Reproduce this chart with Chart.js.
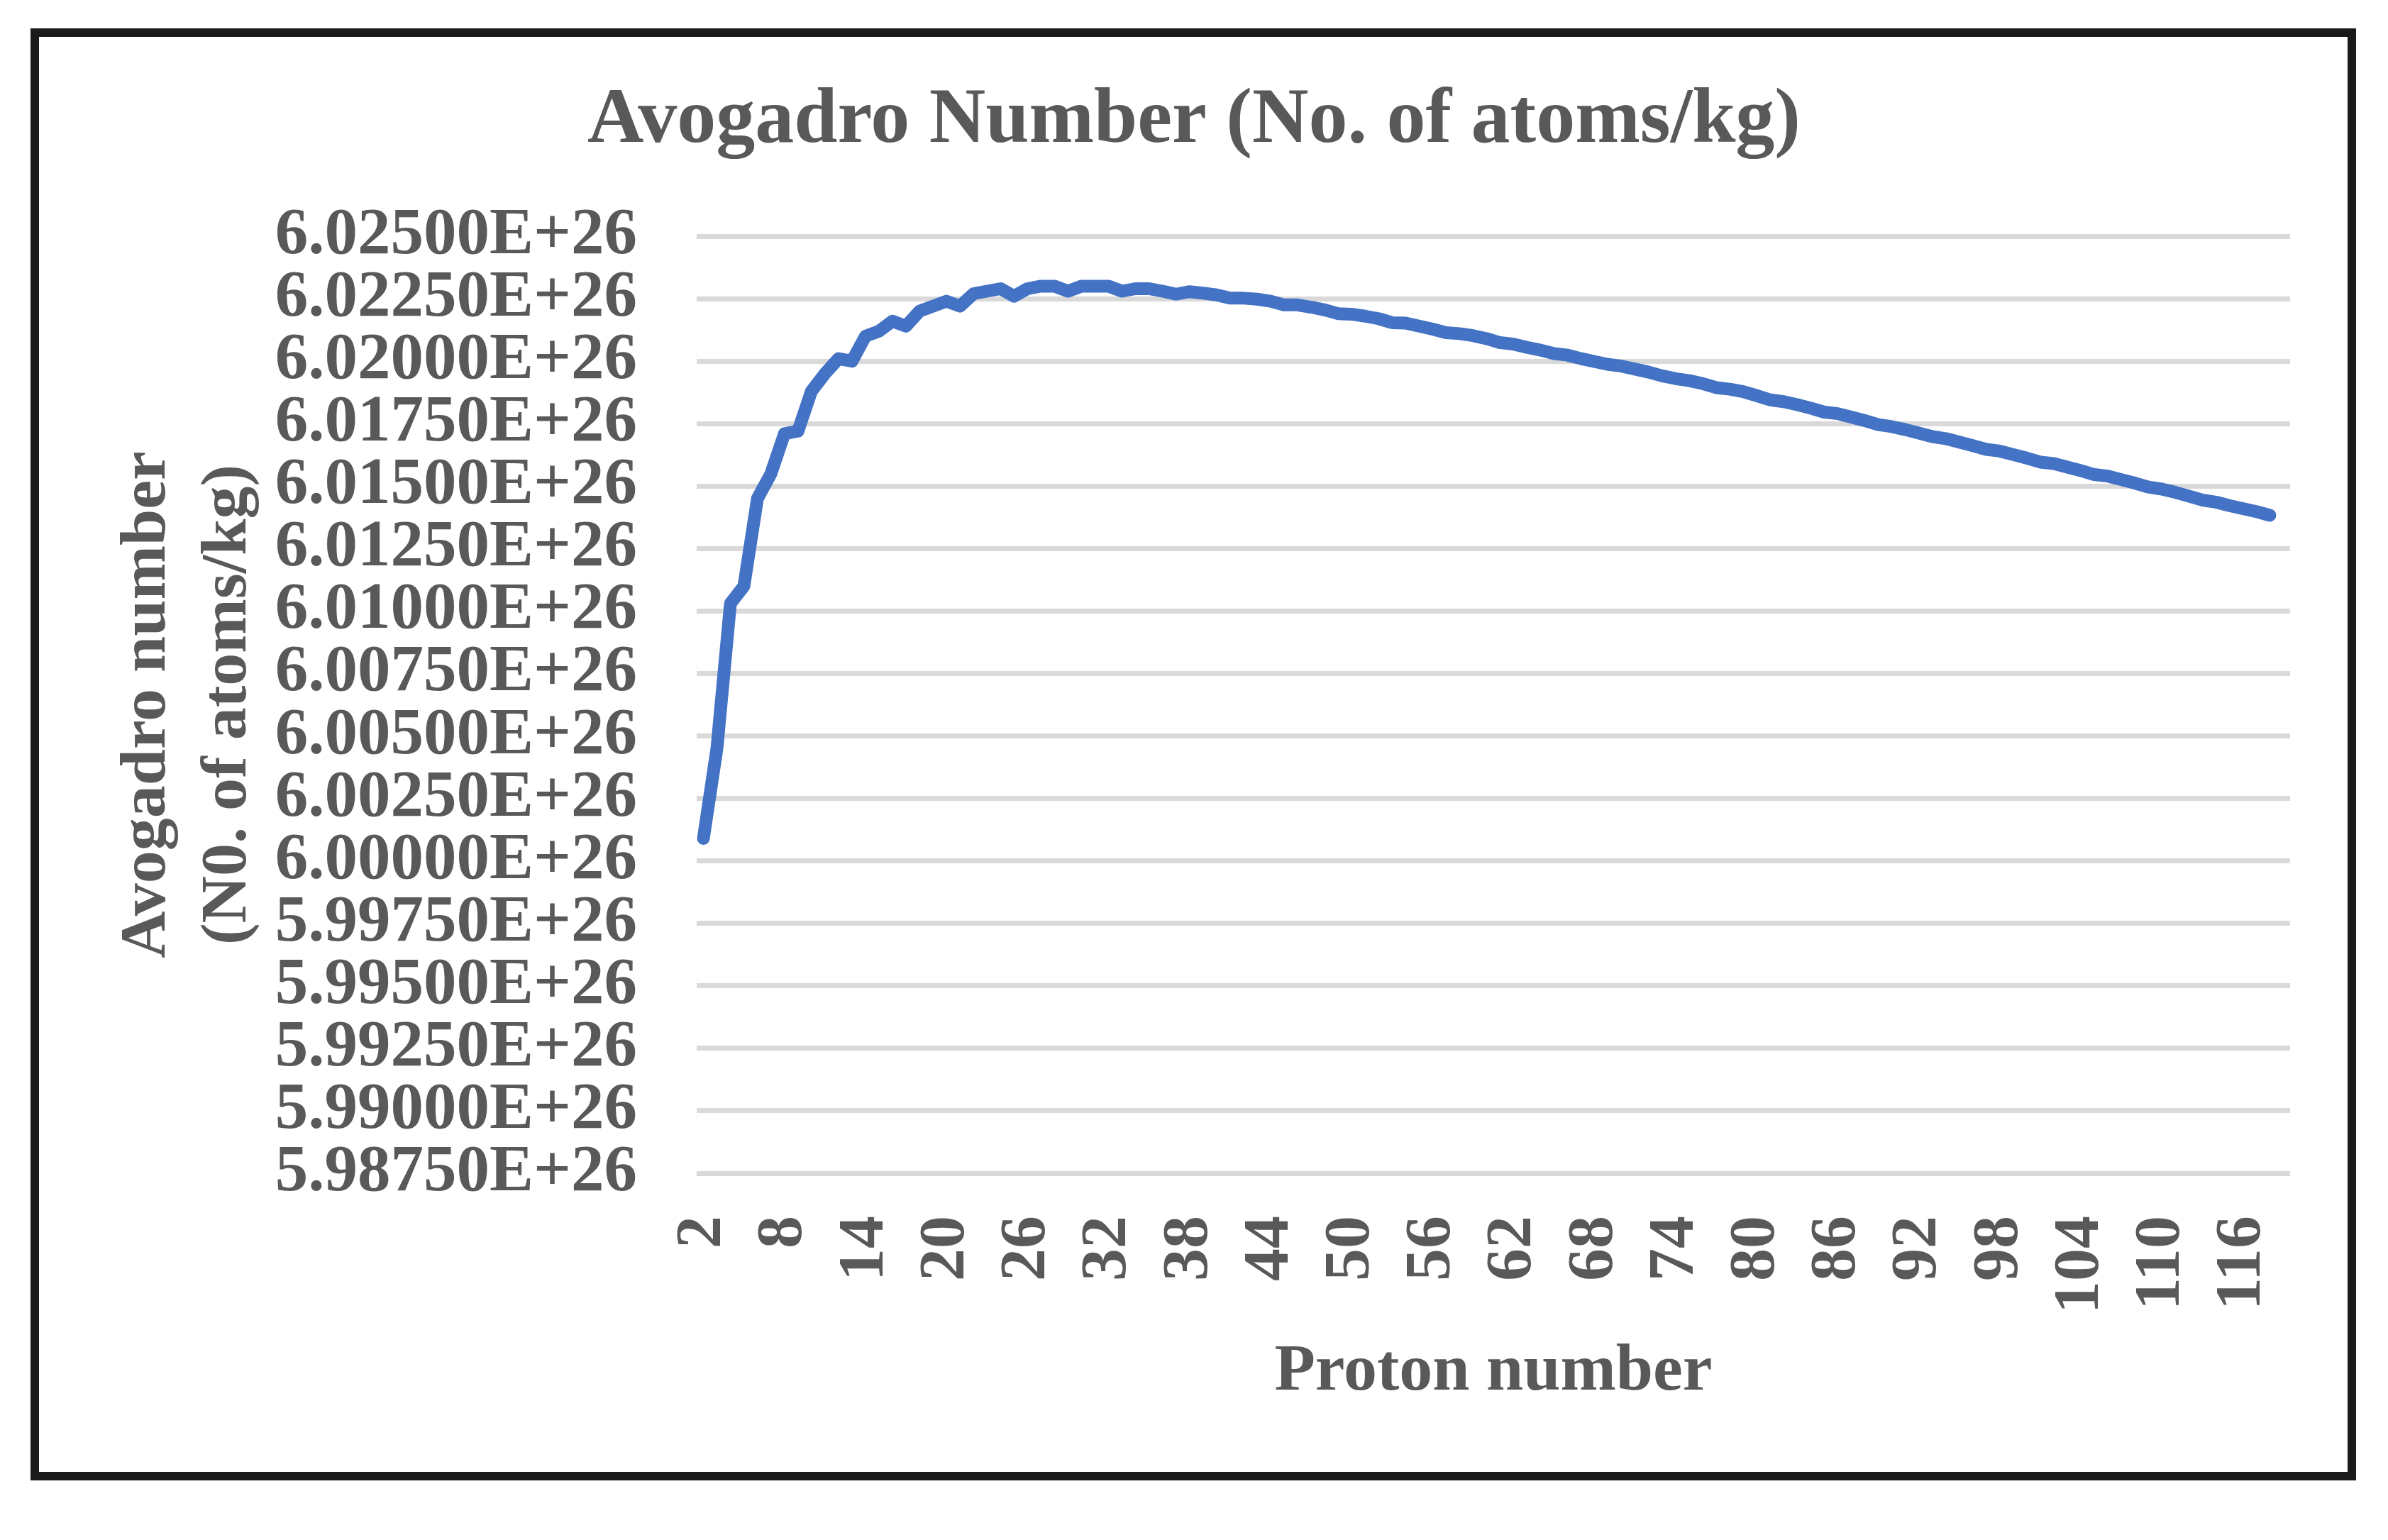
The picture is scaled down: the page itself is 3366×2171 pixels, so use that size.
<!DOCTYPE html>
<html>
<head>
<meta charset="utf-8">
<script src="https://cdn.jsdelivr.net/npm/chart.js@4.4.1/dist/chart.umd.min.js"></script>
<style>
  html, body { margin: 0; padding: 0; background: #ffffff; }
  canvas { display: block; }
</style>
</head>
<body>
<canvas id="c" width="3366" height="2171"></canvas>
<script>
// Category labels: proton number (last slot is an empty category, as in the source)
const protonNumbers = [2,3,4,5,6,7,8,9,10,11,12,13,14,15,16,17,18,19,20,21,22,23,24,25,26,27,28,29,30,
  31,32,33,34,35,36,37,38,39,40,41,42,43,44,45,46,47,48,49,50,51,52,53,54,55,56,57,58,59,60,
  61,62,63,64,65,66,67,68,69,70,71,72,73,74,75,76,77,78,79,80,81,82,83,84,85,86,87,88,89,90,
  91,92,93,94,95,96,97,98,99,100,101,102,103,104,105,106,107,108,109,110,111,112,113,114,115,116,117,118,119];

// Avogadro number (atoms/kg), in units of 1E+26, for Z = 2 .. 118
const avogadroE26 = [
  6.0009, 6.0045, 6.0103, 6.0110, 6.0145, 6.0155, 6.0171, 6.0172, 6.0188, 6.0195,
  6.0201, 6.0200, 6.0210, 6.0212, 6.0216, 6.0214, 6.0220, 6.0222, 6.0224, 6.0222,
  6.0227, 6.0228, 6.0229, 6.0226, 6.0229, 6.0230, 6.0230, 6.0228, 6.0230, 6.0230,
  6.0230, 6.0228, 6.0229, 6.0229, 6.0228, 6.02268, 6.02278, 6.02272, 6.02265, 6.02252,
  6.02252, 6.02248, 6.02240, 6.02225, 6.02225, 6.02216, 6.02205, 6.02190, 6.02188, 6.02180,
  6.02170, 6.02154, 6.02152, 6.02140, 6.02128, 6.02114, 6.02110, 6.02102, 6.02090, 6.02074,
  6.02068, 6.02055, 6.02044, 6.02030, 6.02024, 6.02010, 6.01998, 6.01987, 6.01980, 6.01968,
  6.01956, 6.01941, 6.01930, 6.01922, 6.01910, 6.01894, 6.01888, 6.01878, 6.01862, 6.01845,
  6.01838, 6.01826, 6.01812, 6.01796, 6.01790, 6.01776, 6.01762, 6.01746, 6.01738, 6.01726,
  6.01712, 6.01698, 6.01690, 6.01676, 6.01662, 6.01647, 6.01640, 6.01626, 6.01612, 6.01596,
  6.01590, 6.01576, 6.01562, 6.01546, 6.01540, 6.01526, 6.01512, 6.01496, 6.01488, 6.01475,
  6.01460, 6.01444, 6.01436, 6.01422, 6.01410, 6.01398, 6.01383
];

const yMin = 5.9875;
const yMax = 6.025;
const yStep = 0.0025;

const chartTitle = 'Avogadro Number (No. of atoms/kg)';
const xTitle = 'Proton number';
const yTitle = ['Avogadro number', '(N0. of atoms/kg)'];

const FONT = 'Liberation Serif';
const TEXT = '#595959';

const frame = {
  id: 'frame',
  beforeDraw(chart) {
    const ctx = chart.ctx;
    ctx.save();
    ctx.fillStyle = '#ffffff';
    ctx.fillRect(0, 0, chart.width, chart.height);
    ctx.restore();
  },
  afterDraw(chart) {
    const ctx = chart.ctx;
    ctx.save();
    ctx.strokeStyle = '#1a1a1a';
    ctx.lineWidth = 12;
    ctx.strokeRect(49, 46, 3266, 2035);
    ctx.restore();
  }
};

new Chart(document.getElementById('c'), {
  type: 'line',
  data: {
    labels: protonNumbers,
    datasets: [{
      data: avogadroE26,
      borderColor: '#4472c4',
      borderWidth: 18,
      pointRadius: 0,
      tension: 0,
      borderCapStyle: 'round',
      borderJoinStyle: 'round',
      fill: false
    }]
  },
  options: {
    responsive: false,
    devicePixelRatio: 1,
    animation: false,
    layout: { padding: { left: 55, right: 55, top: 106, bottom: 55 } },
    plugins: {
      legend: { display: false },
      tooltip: { enabled: false },
      title: {
        display: true,
        text: chartTitle,
        color: TEXT,
        font: { family: FONT, size: 110, weight: 'bold', lineHeight: 1.2 },
        padding: { top: 0, bottom: 95 }
      }
    },
    scales: {
      x: {
        type: 'category',
        offset: true,
        grid: { display: false },
        border: { display: false },
        ticks: {
          autoSkip: false,
          maxRotation: 90,
          minRotation: 90,
          padding: 52,
          color: TEXT,
          font: { family: FONT, size: 92, weight: 'bold', lineHeight: 1.2 },
          callback: function (val, idx) {
            return idx % 6 === 0 ? String(this.getLabelForValue(val)) : '';
          }
        },
        title: {
          display: true,
          text: xTitle,
          color: TEXT,
          font: { family: FONT, size: 94, weight: 'bold', lineHeight: 1.2 },
          padding: { top: 0, bottom: 125 }
        },
        afterFit: function (s) {
          s.height = 462;
          s.paddingLeft = 0;
          s.paddingRight = 138;
        }
      },
      y: {
        min: yMin,
        max: yMax,
        grid: { color: '#d9d9d9', lineWidth: 7, drawTicks: false },
        border: { display: false },
        ticks: {
          stepSize: yStep,
          autoSkip: false,
          maxTicksLimit: 30,
          padding: 84,
          color: TEXT,
          font: { family: FONT, size: 93, weight: 'bold', lineHeight: 1.0 },
          callback: function (v) { return Number(v).toFixed(5) + 'E+26'; }
        },
        title: {
          display: true,
          text: yTitle,
          color: TEXT,
          font: { family: FONT, size: 92, weight: 'bold', lineHeight: 1.24 },
          padding: { top: 96, bottom: 0 }
        },
        afterFit: function (s) { s.width = 927; }
      }
    }
  },
  plugins: [frame]
});
</script>
</body>
</html>
